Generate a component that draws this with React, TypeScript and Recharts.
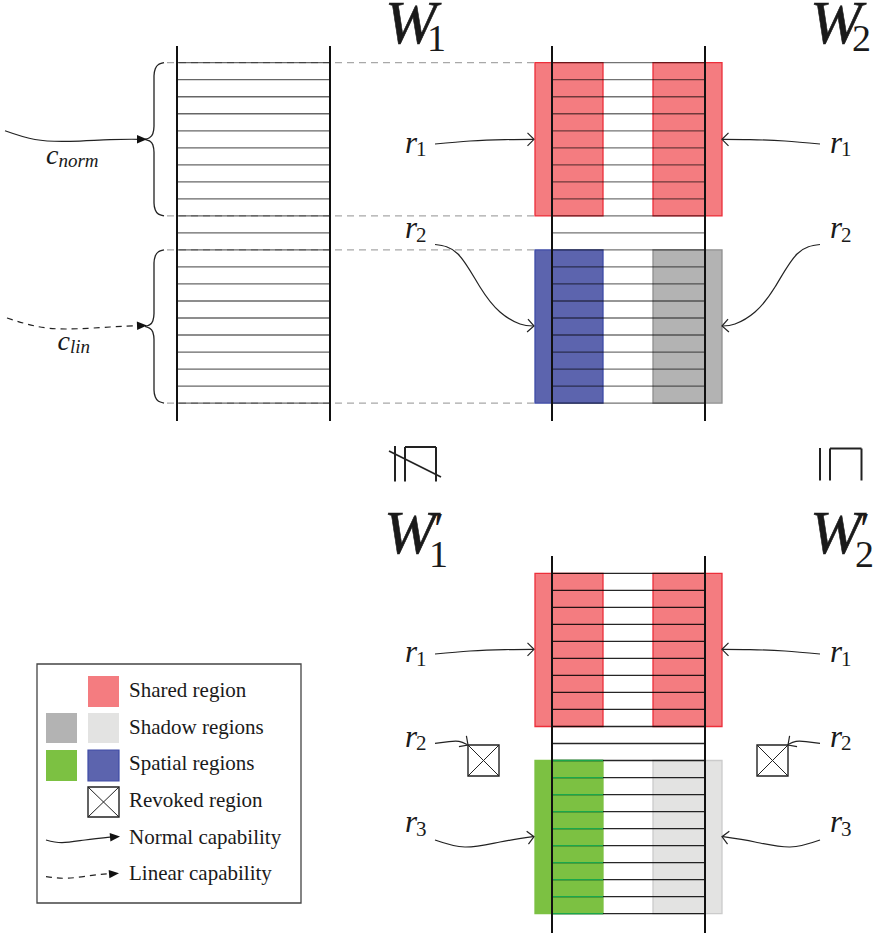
import React from "react";
import {
  ComposedChart,
  XAxis,
  YAxis,
  ReferenceArea,
  ReferenceLine,
  Line,
  Scatter,
} from "recharts";

const WIDTH = 874;
const HEIGHT = 933;
const SERIF = '"Liberation Serif", "Times New Roman", "DejaVu Serif", serif';
const INK = "#1a1a1a";

const RED = "#f47c80";
const RED_EDGE = "#ec2f3a";
const BLUE = "#5c64ae";
const BLUE_EDGE = "#3e4ba6";
const GREY = "#b3b3b3";
const GREY_EDGE = "#8f8f8f";
const GREEN = "#7cc142";
const GREEN_LINE = "#1aa84b";
const LIGHT = "#e3e3e2";
const LIGHT_EDGE = "#cbcbcb";

// 21 slot boundaries -> 20 slots in every memory window
const slotLines = [0, 1, 2, 3, 4, 5, 6, 7, 8, 9, 10, 11, 12, 13, 14, 15, 16, 17, 18, 19, 20];
const slotPitch = 17.02;

// memory windows: W1, W2, W2'
const windows = [
  { top: 62.7, left: 177, right: 330, railTop: 46, railBottom: 421, lineOpacity: 0.6 },
  { top: 62.7, left: 552, right: 705, railTop: 46, railBottom: 421, lineOpacity: 0.55 },
  { top: 573.3, left: 552, right: 705, railTop: 556, railBottom: 933, lineOpacity: 0.85 },
];

// coloured regions, by window and slot rows
const regions = [
  { win: 1, from: 0, to: 9, x1: 535, x2: 603, fill: RED, stroke: RED_EDGE },
  { win: 1, from: 0, to: 9, x1: 653, x2: 722, fill: RED, stroke: RED_EDGE },
  { win: 1, from: 11, to: 20, x1: 535, x2: 603, fill: BLUE, stroke: BLUE_EDGE },
  { win: 1, from: 11, to: 20, x1: 653, x2: 722, fill: GREY, stroke: GREY_EDGE },
  { win: 2, from: 0, to: 9, x1: 535, x2: 603, fill: RED, stroke: RED_EDGE },
  { win: 2, from: 0, to: 9, x1: 653, x2: 722, fill: RED, stroke: RED_EDGE },
  { win: 2, from: 11, to: 20, x1: 535, x2: 603, fill: GREEN, stroke: GREEN },
  { win: 2, from: 11, to: 20, x1: 653, x2: 722, fill: LIGHT, stroke: LIGHT_EDGE },
];

const guideRows = [0, 9, 11, 20];
const greenRows = [11, 12, 13, 14, 15, 16, 17, 18, 19, 20];

const revokedBoxes = [
  { x1: 468, x2: 499, y1: 745, y2: 776 },
  { x1: 757, x2: 788, y1: 745, y2: 776 },
  { x1: 88, x2: 119, y1: 787, y2: 817 },
];

const legendSwatches = [
  { x1: 88, x2: 119, y1: 676, y2: 707, fill: RED, stroke: "none" },
  { x1: 46, x2: 77, y1: 713, y2: 743, fill: GREY, stroke: "none" },
  { x1: 88, x2: 119, y1: 713, y2: 743, fill: LIGHT, stroke: "none" },
  { x1: 46, x2: 77, y1: 750, y2: 781, fill: GREEN, stroke: "none" },
  { x1: 88, x2: 119, y1: 750, y2: 781, fill: BLUE, stroke: BLUE_EDGE },
];

const legendTexts = [
  { x: 129, y: 697, text: "Shared region" },
  { x: 129, y: 733.5, text: "Shadow regions" },
  { x: 129, y: 770, text: "Spatial regions" },
  { x: 129, y: 807, text: "Revoked region" },
  { x: 129, y: 843.5, text: "Normal capability" },
  { x: 129, y: 880, text: "Linear capability" },
];

const windowLabels = [
  { x: 385, y: 43, sub: "1", prime: false },
  { x: 810, y: 43, sub: "2", prime: false },
  { x: 384, y: 553, sub: "1", prime: true },
  { x: 810, y: 553, sub: "2", prime: true },
];

const regionLabels = [
  { x: 405, y: 152.5, sub: "1" },
  { x: 830, y: 152.5, sub: "1" },
  { x: 405, y: 238, sub: "2" },
  { x: 830, y: 238, sub: "2" },
  { x: 405, y: 662, sub: "1" },
  { x: 830, y: 662, sub: "1" },
  { x: 405, y: 746.5, sub: "2" },
  { x: 830, y: 746.5, sub: "2" },
  { x: 405, y: 832, sub: "3" },
  { x: 830, y: 832, sub: "3" },
];

const capLabels = [
  { x: 46, y: 164, sub: "norm" },
  { x: 57.5, y: 350, sub: "lin" },
];

// rotated "⊑" and "⋢" between the windows
const orderStrokes = [
  { a: [395, 446], b: [395, 481.5], w: 2 },
  { a: [405, 481.5], b: [405, 447], w: 2 },
  { a: [405, 447], b: [436, 447], w: 2 },
  { a: [436, 447], b: [436, 481.5], w: 2 },
  { a: [389, 451], b: [441, 477], w: 1.6 },
  { a: [820, 448], b: [820, 480.5], w: 2 },
  { a: [830, 480.5], b: [830, 448.5], w: 2 },
  { a: [830, 448.5], b: [861.5, 448.5], w: 2 },
  { a: [861.5, 448.5], b: [861.5, 480.5], w: 2 },
];

// capability arrows
const arrows = [
  { dashed: false, pts: [{ x: 435, y: 144 }, { x: 470, y: 141 }, { x: 505, y: 139.6 }, { x: 533, y: 139.3 }] },
  { dashed: false, pts: [{ x: 820, y: 144 }, { x: 785, y: 141 }, { x: 750, y: 139.6 }, { x: 723, y: 139.3 }] },
  { dashed: false, pts: [{ x: 435, y: 244.5 }, { x: 458, y: 254 }, { x: 480, y: 287 }, { x: 500, y: 312 }, { x: 520, y: 324 }, { x: 533, y: 326 }] },
  { dashed: false, pts: [{ x: 820, y: 244.5 }, { x: 797, y: 254 }, { x: 775, y: 287 }, { x: 755, y: 312 }, { x: 735, y: 324 }, { x: 723, y: 326 }] },
  { dashed: false, pts: [{ x: 435, y: 654 }, { x: 470, y: 651 }, { x: 505, y: 649.6 }, { x: 533, y: 649.3 }] },
  { dashed: false, pts: [{ x: 820, y: 654 }, { x: 785, y: 651 }, { x: 750, y: 649.6 }, { x: 723, y: 649.3 }] },
  { dashed: false, pts: [{ x: 435, y: 743.3 }, { x: 449, y: 741.6 }, { x: 459, y: 741.4 }, { x: 467, y: 744.5 }] },
  { dashed: false, pts: [{ x: 820, y: 743.3 }, { x: 806, y: 741.6 }, { x: 796, y: 741.4 }, { x: 788, y: 744.5 }] },
  { dashed: false, pts: [{ x: 435, y: 840 }, { x: 465, y: 847 }, { x: 500, y: 842 }, { x: 533, y: 836.7 }] },
  { dashed: false, pts: [{ x: 820, y: 840 }, { x: 790, y: 847 }, { x: 755, y: 842 }, { x: 723, y: 836.7 }] },
  { dashed: false, pts: [{ x: 5, y: 130.7 }, { x: 35, y: 139.5 }, { x: 70, y: 141.3 }, { x: 110, y: 139.6 }, { x: 140, y: 139.3 }] },
  { dashed: true, pts: [{ x: 7, y: 318 }, { x: 35, y: 326 }, { x: 67, y: 329 }, { x: 110, y: 327 }, { x: 140, y: 325.6 }] },
  { dashed: false, pts: [{ x: 46, y: 840 }, { x: 62, y: 842.6 }, { x: 85, y: 840 }, { x: 112, y: 836.8 }] },
  { dashed: true, pts: [{ x: 46, y: 876.7 }, { x: 68, y: 878.2 }, { x: 92, y: 875.3 }, { x: 112, y: 873.4 }] },
];

const arrowHeads = [
  { x: 534, y: 139.3, angle: 0, kind: "open" },
  { x: 722, y: 139.3, angle: 180, kind: "open" },
  { x: 534, y: 326, angle: 4, kind: "open" },
  { x: 722, y: 326, angle: 176, kind: "open" },
  { x: 534, y: 649.3, angle: 0, kind: "open" },
  { x: 722, y: 649.3, angle: 180, kind: "open" },
  { x: 468, y: 745, angle: 35, kind: "open" },
  { x: 788, y: 745, angle: 145, kind: "open" },
  { x: 534, y: 836.7, angle: -8, kind: "open" },
  { x: 722, y: 836.7, angle: 188, kind: "open" },
  { x: 146, y: 139.3, angle: 0, kind: "solid" },
  { x: 146, y: 325.5, angle: -2, kind: "solid" },
  { x: 119, y: 836.5, angle: -5, kind: "solid" },
  { x: 118, y: 873.3, angle: -5, kind: "solid" },
];

const braceSpans = [
  { top: 62.7, bottom: 215.9 },
  { top: 249.9, bottom: 403.1 },
];

function braceHalves(top: number, bottom: number) {
  const mid = (top + bottom) / 2;
  const upper = [
    { x: 164, y: top },
    { x: 158.5, y: top + 1.8 },
    { x: 155.3, y: top + 6 },
    { x: 154, y: top + 13 },
    { x: 154, y: mid - 13 },
    { x: 152.8, y: mid - 5.5 },
    { x: 149.5, y: mid - 1.6 },
    { x: 145, y: mid },
  ];
  const lower = upper.map((p) => ({ x: p.x, y: top + bottom - p.y })).reverse();
  return [upper, lower];
}

const rowY = (win: number, row: number) => windows[win].top + row * slotPitch;

function ArrowHead(props: any) {
  const { cx, cy, payload } = props;
  const t = `translate(${cx},${cy}) rotate(${payload.angle})`;
  if (payload.kind === "open") {
    return (
      <path
        transform={t}
        d="M -6.5 -6.5 Q -1.8 -1.8 0 0 Q -1.8 1.8 -6.5 6.5"
        fill="none"
        stroke="#222"
        strokeWidth={1.2}
      />
    );
  }
  return <path transform={t} d="M 1 0 L -9 -4.2 L -9 4.2 Z" fill="#111" />;
}

function WindowLabel(props: any) {
  const { cx, cy, payload } = props;
  return (
    <g fontFamily={SERIF} fill={INK}>
      <text x={cx} y={cy} fontSize={62} fontStyle="italic" stroke={INK} strokeWidth={0.6}>
        W
      </text>
      {payload.prime && (
        <text x={cx + 50} y={cy - 8} fontSize={46}>
          ′
        </text>
      )}
      <text x={cx + (payload.prime ? 45 : 42)} y={cy + (payload.prime ? 13.5 : 8)} fontSize={38}>
        {payload.sub}
      </text>
    </g>
  );
}

function RegionLabel(props: any) {
  const { cx, cy, payload } = props;
  return (
    <text x={cx} y={cy} fontFamily={SERIF} fill={INK} fontSize={31} fontStyle="italic">
      r
      <tspan fontStyle="normal" fontSize={21} dx={-1} dy={3.5}>
        {payload.sub}
      </tspan>
    </text>
  );
}

function CapLabel(props: any) {
  const { cx, cy, payload } = props;
  return (
    <text x={cx} y={cy} fontFamily={SERIF} fill={INK} fontSize={28} fontStyle="italic">
      c
      <tspan fontSize={19} dy={3}>
        {payload.sub}
      </tspan>
    </text>
  );
}

function LegendText(props: any) {
  const { cx, cy, payload } = props;
  return (
    <text x={cx} y={cy} fontFamily={SERIF} fill={INK} fontSize={21}>
      {payload.text}
    </text>
  );
}

export default function App() {
  return (
    <div style={{ position: "absolute", left: 0, top: 0, background: "#fff" }}>
      <ComposedChart width={WIDTH} height={HEIGHT} margin={{ top: 0, right: 0, bottom: 0, left: 0 }}>
        <XAxis type="number" dataKey="x" domain={[0, WIDTH]} allowDataOverflow hide />
        <YAxis type="number" dataKey="y" domain={[0, HEIGHT]} allowDataOverflow reversed hide />

        {/* legend frame */}
        <ReferenceArea x1={37} x2={301} y1={664} y2={903} fill="#fff" fillOpacity={1} stroke="#444" strokeWidth={1.3} ifOverflow="visible" />

        {regions.map((r, i) => (
          <ReferenceArea
            key={`reg-${i}`}
            x1={r.x1}
            x2={r.x2}
            y1={rowY(r.win, r.from)}
            y2={rowY(r.win, r.to)}
            fill={r.fill}
            fillOpacity={1}
            stroke={r.stroke}
            strokeWidth={1.3}
            ifOverflow="visible"
          />
        ))}

        {legendSwatches.map((s, i) => (
          <ReferenceArea
            key={`sw-${i}`}
            x1={s.x1}
            x2={s.x2}
            y1={s.y1}
            y2={s.y2}
            fill={s.fill}
            fillOpacity={1}
            stroke={s.stroke}
            strokeWidth={1.2}
            ifOverflow="visible"
          />
        ))}

        {revokedBoxes.map((b, i) => (
          <ReferenceArea
            key={`rv-${i}`}
            x1={b.x1}
            x2={b.x2}
            y1={b.y1}
            y2={b.y2}
            fill="#fff"
            fillOpacity={1}
            stroke="#222"
            strokeWidth={1.4}
            ifOverflow="visible"
          />
        ))}

        {/* dashed guides from W1 to W2 */}
        {guideRows.map((row) => (
          <ReferenceLine
            key={`guide-${row}`}
            segment={[
              { x: 167, y: rowY(0, row) },
              { x: 535, y: rowY(0, row) },
            ]}
            stroke="#a8a8a8"
            strokeWidth={1.3}
            strokeDasharray="7 5"
            ifOverflow="visible"
          />
        ))}

        {/* slot boundaries */}
        {windows.map((w, wi) =>
          slotLines.map((row) => (
            <ReferenceLine
              key={`slot-${wi}-${row}`}
              segment={[
                { x: w.left, y: rowY(wi, row) },
                { x: w.right, y: rowY(wi, row) },
              ]}
              stroke="#000"
              strokeOpacity={w.lineOpacity}
              strokeWidth={1.3}
              ifOverflow="visible"
            />
          ))
        )}

        {greenRows.map((row) => (
          <ReferenceLine
            key={`green-${row}`}
            segment={[
              { x: 552, y: rowY(2, row) },
              { x: 603, y: rowY(2, row) },
            ]}
            stroke={GREEN_LINE}
            strokeWidth={1.3}
            ifOverflow="visible"
          />
        ))}

        {/* window rails */}
        {windows.flatMap((w, wi) =>
          [w.left, w.right].map((x) => (
            <ReferenceLine
              key={`rail-${wi}-${x}`}
              segment={[
                { x, y: w.railTop },
                { x, y: w.railBottom },
              ]}
              stroke="#111"
              strokeWidth={2}
              ifOverflow="visible"
            />
          ))
        )}

        {/* crosses of revoked regions */}
        {revokedBoxes.flatMap((b, i) => [
          <ReferenceLine
            key={`x1-${i}`}
            segment={[
              { x: b.x1, y: b.y1 },
              { x: b.x2, y: b.y2 },
            ]}
            stroke="#222"
            strokeWidth={1}
            ifOverflow="visible"
          />,
          <ReferenceLine
            key={`x2-${i}`}
            segment={[
              { x: b.x1, y: b.y2 },
              { x: b.x2, y: b.y1 },
            ]}
            stroke="#222"
            strokeWidth={1}
            ifOverflow="visible"
          />,
        ])}

        {orderStrokes.map((s, i) => (
          <ReferenceLine
            key={`ord-${i}`}
            segment={[
              { x: s.a[0], y: s.a[1] },
              { x: s.b[0], y: s.b[1] },
            ]}
            stroke="#222"
            strokeWidth={s.w}
            ifOverflow="visible"
          />
        ))}

        {braceSpans.flatMap((b, i) =>
          braceHalves(b.top, b.bottom).map((pts, j) => (
            <Line
              key={`brace-${i}-${j}`}
              data={pts}
              dataKey="y"
              type="monotoneY"
              stroke="#222"
              strokeWidth={1.3}
              dot={false}
              activeDot={false}
              isAnimationActive={false}
            />
          ))
        )}

        {arrows.map((a, i) => (
          <Line
            key={`arrow-${i}`}
            data={a.pts}
            dataKey="y"
            type="natural"
            stroke="#222"
            strokeWidth={1.2}
            strokeDasharray={a.dashed ? "6 5" : undefined}
            dot={false}
            activeDot={false}
            isAnimationActive={false}
          />
        ))}

        <Scatter data={arrowHeads} dataKey="y" shape={ArrowHead} isAnimationActive={false} />
        <Scatter data={windowLabels} dataKey="y" shape={WindowLabel} isAnimationActive={false} />
        <Scatter data={regionLabels} dataKey="y" shape={RegionLabel} isAnimationActive={false} />
        <Scatter data={capLabels} dataKey="y" shape={CapLabel} isAnimationActive={false} />
        <Scatter data={legendTexts} dataKey="y" shape={LegendText} isAnimationActive={false} />
      </ComposedChart>
    </div>
  );
}
